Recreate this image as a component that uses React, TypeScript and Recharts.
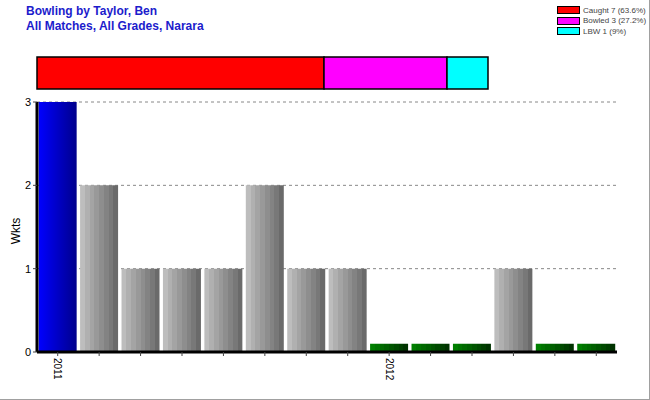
import React from 'react';
import { BarChart, Bar, XAxis, YAxis, CartesianGrid, Cell, Label } from 'recharts';

// ---- data ----
const matchLabels = ['2011', '', '', '', '', '', '', '', '2012', '', '', '', '', ''];
const wickets = [3, 2, 1, 1, 1, 2, 1, 1, 0, 0, 0, 1, 0, 0];
const yTicks = [0, 1, 2, 3];
const dismissalTypes = ['Caught', 'Bowled', 'LBW'];
const dismissalCounts = [7, 3, 1];
const dismissalPct = ['63.6%', '27.2%', '9%'];
const titleLines = ['Bowling by Taylor, Ben', 'All Matches, All Grades, Narara'];

// zero-wicket matches are drawn as a small stub
const ZERO_STUB = 0.1;

const FONT = "Arial, 'Liberation Sans', sans-serif";
const dismissalColors = ['#ff0000', '#ff00ff', '#00ffff'];

const maxW = Math.max(...wickets);
const mainData = wickets.map((w, i) => ({
  label: matchLabels[i],
  key: i,
  wkts: w === 0 ? ZERO_STUB : w,
  raw: w,
}));

const topRow: Record<string, any> = { name: 'all' };
dismissalTypes.forEach((t, i) => {
  topRow[t] = dismissalCounts[i];
});
const topData = [topRow];
const totalDismissals = dismissalCounts.reduce((a, b) => a + b, 0);

const stripeStops = (colors: string[]) => {
  const n = colors.length;
  const out: React.ReactNode[] = [];
  colors.forEach((c, i) => {
    out.push(<stop key={`a${i}`} offset={`${(i / n) * 100}%`} stopColor={c} />);
    out.push(<stop key={`b${i}`} offset={`${((i + 1) / n) * 100}%`} stopColor={c} />);
  });
  return out;
};

const greyStripes = ['#bdbdbd', '#b0b0b0', '#a4a4a4', '#999999', '#8e8e8e', '#838383', '#787878', '#6a6a6a'];
const greenStripes = ['#007f00', '#007400', '#006a00', '#006000', '#005500', '#004a00', '#003f00', '#003300'];

const XTick = (props: any) => {
  const { x, y, payload } = props;
  const lbl = matchLabels[payload.value];
  if (!lbl) return null;
  return (
    <text
      x={x}
      y={y}
      transform={`rotate(90 ${x} ${y})`}
      textAnchor="start"
      dy="0.35em"
      fontSize={10}
      fontFamily={FONT}
      fill="#000"
    >
      {lbl}
    </text>
  );
};

const WktsLabel = () => (
  <text
    x={16}
    y={231}
    transform="rotate(-90 16 231)"
    textAnchor="middle"
    dominantBaseline="central"
    fontSize={12}
    fontFamily={FONT}
    fill="#000"
  >
    Wkts
  </text>
);

export default function App() {
  return (
    <div
      style={{
        position: 'fixed',
        left: 0,
        top: 0,
        width: 650,
        height: 400,
        background: '#fff',
        boxSizing: 'border-box',
        borderRight: '1px solid #a0a0a0',
        borderBottom: '1px solid #a0a0a0',
        fontFamily: FONT,
        overflow: 'hidden',
      }}
    >
      <div style={{ position: 'absolute', left: 26, top: 4, color: '#1c1ccc', fontWeight: 'bold', fontSize: 12, lineHeight: '15px' }}>
        {titleLines.map((t) => (
          <div key={t}>{t}</div>
        ))}
      </div>

      <div style={{ position: 'absolute', left: 557, top: 5 }}>
        {dismissalTypes.map((t, i) => (
          <div key={t} style={{ display: 'flex', alignItems: 'center', height: 10.5 }}>
            <div style={{ width: 21, height: 6, background: dismissalColors[i], border: '1px solid #000', marginRight: 3 }} />
            <span style={{ fontSize: 8, color: '#444', whiteSpace: 'nowrap' }}>
              {`${t} ${dismissalCounts[i]} (${dismissalPct[i]})`}
            </span>
          </div>
        ))}
      </div>

      <div style={{ position: 'absolute', left: 0, top: 53 }}>
        <BarChart
          width={650}
          height={40}
          data={topData}
          layout="vertical"
          margin={{ top: 4, right: 162, bottom: 4, left: 37 }}
          barCategoryGap={0}
        >
          <XAxis type="number" domain={[0, totalDismissals]} hide />
          <YAxis type="category" dataKey="name" hide />
          {dismissalTypes.map((t, i) => (
            <Bar key={t} dataKey={t} stackId="a" fill={dismissalColors[i]} stroke="#000" strokeWidth={1.5} isAnimationActive={false} />
          ))}
        </BarChart>
      </div>

      <div style={{ position: 'absolute', left: 0, top: 0 }}>
        <BarChart
          width={650}
          height={400}
          data={mainData}
          margin={{ top: 102, right: 33, bottom: 8, left: 7 }}
          barCategoryGap="4%"
        >
          <defs>
            <linearGradient id="gBlue" x1="0" y1="0" x2="1" y2="0">
              <stop offset="0%" stopColor="#0000ff" />
              <stop offset="100%" stopColor="#00008c" />
            </linearGradient>
            <linearGradient id="gGrey" x1="0" y1="0" x2="1" y2="0">
              {stripeStops(greyStripes)}
            </linearGradient>
            <linearGradient id="gGreen" x1="0" y1="0" x2="1" y2="0">
              {stripeStops(greenStripes)}
            </linearGradient>
          </defs>
          <CartesianGrid vertical={false} stroke="#888" strokeDasharray="3 3" />
          <XAxis
            dataKey="key"
            interval={0}
            height={40}
            axisLine={{ stroke: '#000', strokeWidth: 3 }}
            tickLine={{ stroke: '#444' }}
            tickSize={4}
            tick={<XTick />}
            tickMargin={2}
          />
          <YAxis
            width={30}
            domain={[0, 3]}
            ticks={yTicks}
            interval={0}
            axisLine={{ stroke: '#000', strokeWidth: 3 }}
            tickLine={{ stroke: '#444' }}
            tickSize={4}
            tickMargin={2}
            tick={{ fill: '#000', fontSize: 11, fontFamily: FONT }}
          >
            <Label content={<WktsLabel />} />
          </YAxis>
          <Bar dataKey="wkts" isAnimationActive={false}>
            {mainData.map((d) => (
              <Cell
                key={d.key}
                fill={d.raw === maxW ? 'url(#gBlue)' : d.raw === 0 ? 'url(#gGreen)' : 'url(#gGrey)'}
              />
            ))}
          </Bar>
        </BarChart>
      </div>
    </div>
  );
}
